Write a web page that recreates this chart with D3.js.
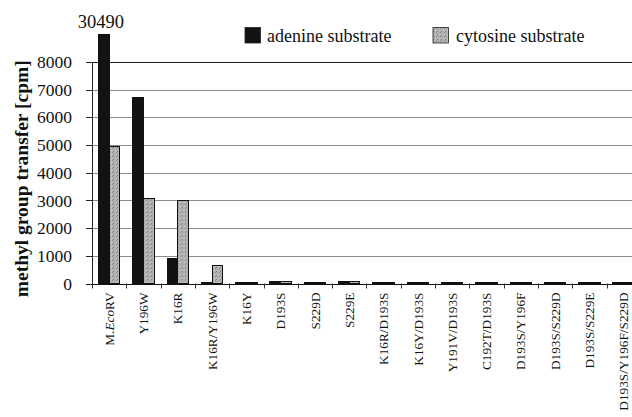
<!DOCTYPE html>
<html>
<head>
<meta charset="utf-8">
<script src="https://d3js.org/d3.v7.min.js"></script>
<style>
    body { margin: 0; background: #fff; }
    svg { display: block; font-family: "Liberation Serif", "Times New Roman", serif; }
    .grid line { stroke: #8c8c8c; stroke-width: 1px; shape-rendering: crispEdges; }
    .grid path { stroke-width: 0; }
    .y-axis path, .y-axis line { stroke: #222; shape-rendering: crispEdges; }
    .x-label { font-size: 13.3px; fill: #111; }
    .bar { stroke: #111; stroke-width: 1px; shape-rendering: crispEdges; }
    .legend-text { font-size: 18px; fill: #111; }
</style>
</head>
<body>
<svg id="chart" width="632" height="417"></svg>
<script>
    // Мутанты (категории)
    const categories = ["M.EcoRV", "Y196W", "K16R", "K16R/Y196W", "K16Y", "D193S", "S229D", "S229E",
        "K16R/D193S", "K16Y/D193S", "Y191V/D193S", "C192T/D193S", "D193S/Y196F", "D193S/S229D",
        "D193S/S229E", "D193S/Y196F/S229D"];
    // Значения (cpm)
    const adenine = [30490, 6700, 900, 40, 20, 60, 20, 60, 40, 30, 30, 40, 30, 40, 30, 30];
    const cytosine = [4950, 3080, 3000, 640, 30, 60, 30, 80, 50, 50, 30, 40, 40, 50, 40, 40];
    const seriesNames = ["adenine substrate", "cytosine substrate"];
    const yTicks = [0, 1000, 2000, 3000, 4000, 5000, 6000, 7000, 8000];
    const breakValue = 9000; // столбец выше обрезается

    const svg = d3.select("#chart");
    const margin = { top: 62, left: 92, bottom: 133.5 };
    const step = 34.3;
    const W = 632, H = 417;
    const serif = "'Liberation Serif', 'Times New Roman', serif";

    const x = d3.scaleBand()
        .domain(categories)
        .range([margin.left, margin.left + step * categories.length])
        .padding(0);
    const x1 = d3.scaleBand()
        .domain(seriesNames)
        .range([0, x.bandwidth()])
        .paddingInner(0)
        .paddingOuter(0.6);
    const y = d3.scaleLinear()
        .domain([0, 8000])
        .range([H - margin.bottom, margin.top]);

    // Текстура для серых столбцов
    const defs = svg.append("defs");
    const pat = defs.append("pattern")
        .attr("id", "stipple")
        .attr("width", 4).attr("height", 4)
        .attr("patternUnits", "userSpaceOnUse");
    pat.append("rect").attr("width", 4).attr("height", 4).attr("fill", "#b4b4b4");
    [[0, 0, "#8a8a8a"], [2, 1, "#9a9a9a"], [1, 3, "#7e7e7e"], [3, 2, "#d0d0d0"]].forEach(p => {
        pat.append("rect").attr("x", p[0]).attr("y", p[1]).attr("width", 1).attr("height", 1).attr("fill", p[2]);
    });
    const colors = { "adenine substrate": "#121212", "cytosine substrate": "url(#stipple)" };

    // Сетка
    svg.append("g")
        .attr("class", "grid")
        .selectAll("line")
        .data(yTicks.filter(d => d > 0))
        .enter()
        .append("line")
        .attr("x1", margin.left)
        .attr("x2", W)
        .attr("y1", d => Math.round(y(d)) + 0.5)
        .attr("y2", d => Math.round(y(d)) + 0.5)
        .style("stroke", d => d === 8000 ? "#1a1a1a" : null);

    // Ось Y
    svg.append("g")
        .attr("class", "y-axis")
        .attr("transform", `translate(${margin.left},0)`)
        .call(d3.axisLeft(y).tickValues(yTicks).tickSize(6).tickPadding(14).tickFormat(d3.format("d")))
        .call(g => g.select(".domain").attr("d", `M-6,${y(8000)}H0V${y(0)}`))
        .call(g => g.selectAll("text")
            .style("font-family", serif)
            .style("font-size", "17.5px")
            .style("fill", "#111"));

    // Подпись оси Y
    svg.append("text")
        .attr("transform", `translate(24,${(y(0) + y(8000)) / 2 + 6}) rotate(-90)`)
        .attr("text-anchor", "middle")
        .attr("dominant-baseline", "middle")
        .style("font-family", serif)
        .style("font-size", "19.5px")
        .style("font-weight", "bold")
        .style("fill", "#111")
        .text("methyl group transfer [cpm]");

    // Столбцы
    const rows = categories.map((c, i) => ({ cat: c, values: [adenine[i], cytosine[i]] }));
    const groups = svg.append("g")
        .selectAll("g")
        .data(rows)
        .enter()
        .append("g")
        .attr("transform", d => `translate(${x(d.cat)},0)`);
    groups.selectAll("rect")
        .data(d => d.values.map((v, j) => ({ key: seriesNames[j], value: v })))
        .enter()
        .append("rect")
        .attr("class", "bar")
        .attr("x", d => x1(d.key))
        .attr("width", x1.bandwidth())
        .attr("y", d => y(Math.min(d.value, breakValue)))
        .attr("height", d => y(0) - y(Math.min(d.value, breakValue)))
        .attr("fill", d => colors[d.key]);

    // Значение обрезанного столбца
    rows.forEach(r => {
        if (r.values[0] > breakValue) {
            svg.append("text")
                .attr("x", x(r.cat) + x1(seriesNames[0]) + x1.bandwidth() / 2 - 3)
                .attr("y", y(breakValue) - 6)
                .attr("text-anchor", "middle")
                .style("font-size", "18.5px")
                .style("fill", "#111")
                .text(r.values[0]);
        }
    });

    // Ось X
    const xAxis = svg.append("g");
    xAxis.append("line")
        .attr("x1", margin.left - 6).attr("x2", W)
        .attr("y1", Math.round(y(0)) + 0.5).attr("y2", Math.round(y(0)) + 0.5)
        .attr("stroke", "#111").style("shape-rendering", "crispEdges");
    xAxis.selectAll(".xtick")
        .data(categories)
        .enter()
        .append("line")
        .attr("x1", d => Math.round(x(d)) + 0.5)
        .attr("x2", d => Math.round(x(d)) + 0.5)
        .attr("y1", y(0))
        .attr("y2", y(0) + 5)
        .attr("stroke", "#333");
    const labels = xAxis.selectAll(".x-label")
        .data(categories)
        .enter()
        .append("text")
        .attr("class", "x-label")
        .attr("text-anchor", "end")
        .attr("transform", d => `translate(${x(d) + x.bandwidth() / 2},${y(0) + 9}) rotate(-90)`)
        .attr("dy", "0.35em");
    labels.each(function (d) {
        const t = d3.select(this);
        if (d === "M.EcoRV") {
            t.append("tspan").text("M.");
            t.append("tspan").style("font-style", "italic").text("Eco");
            t.append("tspan").text("RV");
        } else {
            t.text(d);
        }
    });

    // Легенда
    const legend = svg.append("g");
    const legendPos = [{ sx: 245, tx: 267 }, { sx: 433, tx: 456 }];
    seriesNames.forEach((name, i) => {
        legend.append("rect")
            .attr("x", legendPos[i].sx).attr("y", 27.5)
            .attr("width", 15.5).attr("height", 15.5)
            .attr("fill", colors[name])
            .attr("stroke", "#222").attr("stroke-width", 0.8);
        legend.append("text")
            .attr("class", "legend-text")
            .attr("x", legendPos[i].tx).attr("y", 42)
            .text(name);
    });
</script>
</body>
</html>
